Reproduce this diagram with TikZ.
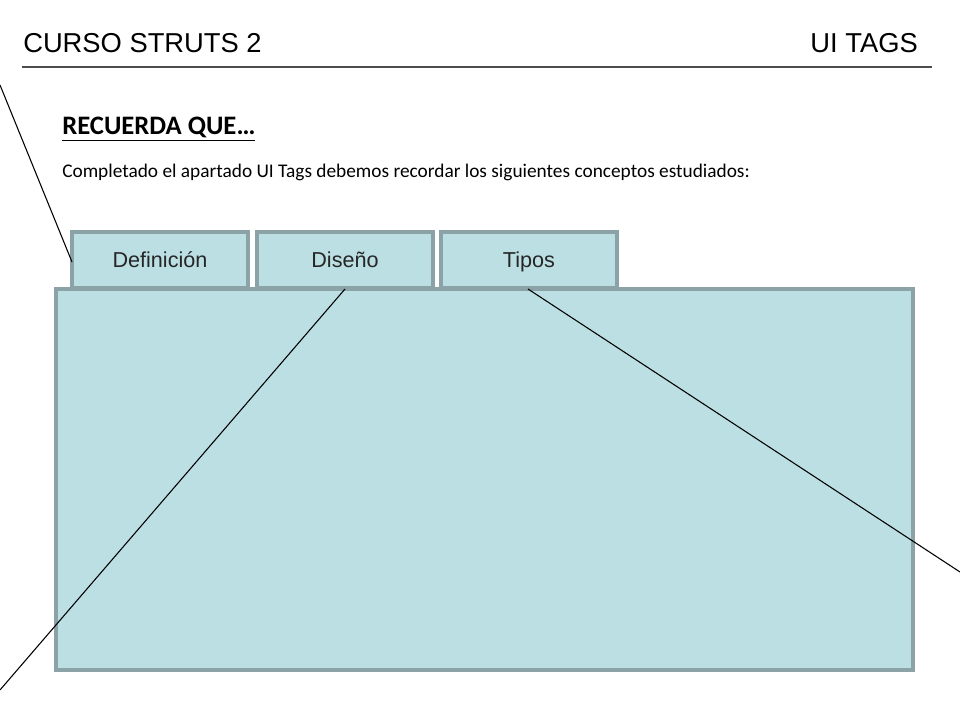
\documentclass[tikz,border=0pt]{standalone}
\usepackage{fontspec}
\setmainfont{Liberation Sans}
\newfontfamily\calibri{Carlito}
\definecolor{fillc}{HTML}{BBDFE3}
\definecolor{edgec}{HTML}{8BA2A6}
\begin{document}
\begin{tikzpicture}[x=0.75pt,y=-0.75pt,
  panel/.style={draw=edgec,fill=fillc,line width=2.6pt,inner sep=0pt},
  tabbox/.style={panel,minimum width=132pt,minimum height=42pt,text height=14.5pt,text depth=3.5pt,font=\fontsize{16.2}{18}\selectfont,text=black!85},
  ray/.style={draw=black,line width=0.8pt}]
\useasboundingbox (0,0) rectangle (960,720);
\node[anchor=west,inner sep=0pt,font=\fontsize{20.5}{24}\selectfont] (title) at (23,43) {CURSO STRUTS 2};
\node[anchor=east,inner sep=0pt,font=\fontsize{20.5}{24}\selectfont] (sub) at (918,43) {UI TAGS};
\coordinate (rl) at (22,67);
\coordinate (rr) at (932,67);
\draw[black!70,line width=0.9pt] (rl) -- (rr);
\node[anchor=base west,inner sep=0pt,font=\calibri\bfseries\fontsize{20}{24}\selectfont] (rec) at (62,135) {\underline{RECUERDA QUE…}};
\node[anchor=base west,inner sep=0pt,font=\calibri\fontsize{14.5}{17}\selectfont] (body) at (62,178) {Completado el apartado UI Tags debemos recordar los siguientes conceptos estudiados:};
\node[panel,minimum width=642.75pt,minimum height=285.75pt] (main) at (484.5,479.5) {};
\node[tabbox] (def) at (160,260) {Definición};
\node[tabbox] (dis) at (345,260) {Diseño};
\node[tabbox] (tip) at (529,260) {Tipos};
\coordinate (a0) at (0,85);
\coordinate (a1) at (72,262);
\coordinate (b0) at (345,289);
\coordinate (b1) at (0,690);
\coordinate (c0) at (528,289);
\coordinate (c1) at (960,572);
\draw[ray] (a0) -- (a1);
\draw[ray] (b0) -- (b1);
\draw[ray] (c0) -- (c1);
\end{tikzpicture}
\end{document}
